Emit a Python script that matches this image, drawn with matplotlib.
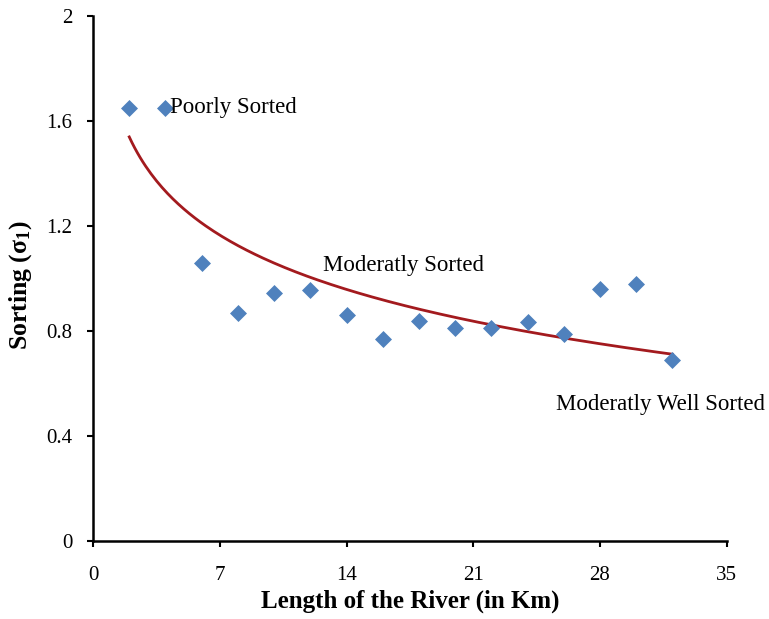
import numpy as np
import matplotlib
matplotlib.use("Agg")
import matplotlib.pyplot as plt

plt.rcParams["font.family"] = "Liberation Serif"
plt.rcParams["mathtext.fontset"] = "custom"
plt.rcParams["mathtext.rm"] = "Liberation Serif"
plt.rcParams["mathtext.it"] = "Liberation Serif:italic"
plt.rcParams["mathtext.bf"] = "Liberation Serif:bold"

# distance along the river (km) and sorting values
distance = [2, 4, 6, 8, 10, 12, 14, 16, 18, 20, 22, 24, 26, 28, 30, 32]
sorting = [1.65, 1.65, 1.06, 0.87, 0.945, 0.955, 0.86, 0.77, 0.84, 0.81,
           0.81, 0.835, 0.79, 0.96, 0.98, 0.69]

x_ticks = [0, 7, 14, 21, 28, 35]
y_ticks = [0, 0.4, 0.8, 1.2, 1.6, 2]
y_ticklabels = ["0", "0.4", "0.8", "1.2", "1.6", "2"]

fig = plt.figure(figsize=(7.69, 6.19), dpi=100)
ax = fig.add_axes([0.121, 0.126, 0.824, 0.848])

ax.scatter(distance, sorting, marker="D", s=75, color="#4F81BD", zorder=3, linewidths=0)

# logarithmic trend line (least squares on ln x)
a, b = np.polyfit(np.log(distance), sorting, 1)
xs = np.linspace(min(distance), max(distance), 200)
ax.plot(xs, a * np.log(xs) + b, color="#A31A1E", lw=2, zorder=2)

ax.text(4.25, 1.653, "Poorly Sorted", fontsize=16.5, va="center", ha="left")
ax.text(12.7, 1.051, "Moderatly Sorted", fontsize=16.5, va="center", ha="left")
ax.text(25.56, 0.522, "Moderatly Well Sorted", fontsize=16.5, va="center", ha="left")

ax.set_xlim(0, 35)
ax.set_ylim(0, 2)
ax.set_xticks(x_ticks)
ax.set_yticks(y_ticks)
ax.set_yticklabels(y_ticklabels)
ax.tick_params(direction="out", length=4, width=1.5, labelsize=15)
ax.tick_params(axis="x", pad=14)
ax.tick_params(axis="y", pad=11)
ax.spines["top"].set_visible(False)
ax.spines["right"].set_visible(False)
ax.spines["left"].set_linewidth(1.8)
ax.spines["bottom"].set_linewidth(1.8)

ax.set_xlabel("Length of the River (in Km)", fontsize=18, fontweight="bold", labelpad=3)
ax.set_ylabel(r"Sorting ($\mathbf{\sigma_1}$)", fontsize=18.5, fontweight="bold",
              va="center")
ax.yaxis.set_label_coords(-0.115, 0.488)

fig.savefig("out.png", dpi=100)
